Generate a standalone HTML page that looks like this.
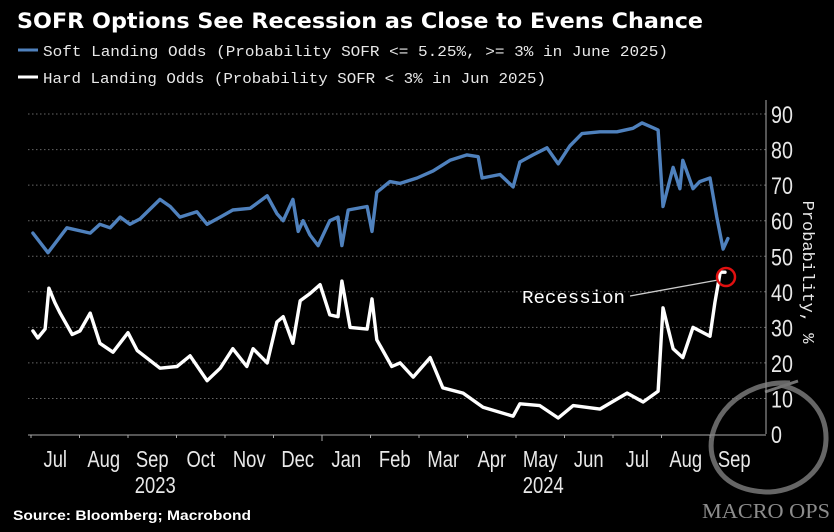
<!DOCTYPE html>
<html><head><meta charset="utf-8"><style>
html,body{margin:0;padding:0;background:#000;}
body{width:834px;height:527px;overflow:hidden;position:relative;font-family:"Liberation Sans",sans-serif;}
</style></head><body>
<svg id="chart" width="834" height="527" viewBox="0 0 834 527" xmlns="http://www.w3.org/2000/svg">
<rect x="0" y="0" width="834" height="527" fill="#000"/>
<text x="17" y="28" fill="#fff" font-family="'DejaVu Sans',sans-serif" font-weight="bold" font-size="21" textLength="686" lengthAdjust="spacingAndGlyphs">SOFR Options See Recession as Close to Evens Chance</text>
<g font-family="'Liberation Mono',monospace" font-size="15" fill="#e8e8e8">
<line x1="18" y1="50" x2="38" y2="50" stroke="#4f81bd" stroke-width="3"/>
<text x="43" y="56" textLength="625" lengthAdjust="spacingAndGlyphs">Soft Landing Odds (Probability SOFR &lt;= 5.25%, &gt;= 3% in June 2025)</text>
<line x1="18" y1="77" x2="38" y2="77" stroke="#fff" stroke-width="3"/>
<text x="43" y="83" textLength="503" lengthAdjust="spacingAndGlyphs">Hard Landing Odds (Probability SOFR &lt; 3% in Jun 2025)</text>
</g>
<g id="grid"></g>
<g id="yaxis"></g>
<g id="xaxis"></g>
<g id="series"></g>
<text transform="translate(803,272) rotate(90)" text-anchor="middle" fill="#e8e8e8" font-family="'Liberation Mono',monospace" font-size="17">Probability, %</text>
<g>
<line x1="630" y1="296" x2="718" y2="280" stroke="#ccc" stroke-width="1.3"/>
<text x="522" y="303" fill="#fff" font-family="'Liberation Mono',monospace" font-size="18" textLength="103" lengthAdjust="spacingAndGlyphs">Recession</text>
<circle cx="726" cy="277" r="9" fill="none" stroke="#e01010" stroke-width="2.5"/>
</g>
<text x="13" y="520" fill="#fff" font-family="'Liberation Sans',sans-serif" font-weight="bold" font-size="14" textLength="238" lengthAdjust="spacingAndGlyphs">Source: Bloomberg; Macrobond</text>
<g opacity="0.75">
<path d="M790 383 C 740 380, 705 420, 712 455 C 718 480, 740 492, 770 492 C 800 490, 825 470, 826 440 C 827 410, 805 390, 780 385" fill="none" stroke="#888" stroke-width="5"/>
<path d="M765 392 L 798 381" stroke="#999" stroke-width="3"/>
<text x="766" y="518" text-anchor="middle" fill="#bbb" font-family="'Liberation Serif',serif" font-size="21" textLength="128" lengthAdjust="spacingAndGlyphs">MACRO OPS</text>
</g>
</svg>
<script>
// Data (x in months since 1 Jul 2023)
const softMonths=[0.04,0.35,0.74,1.22,1.42,1.63,1.84,2.04,2.25,2.66,2.87,3.07,3.42,3.63,3.90,4.16,4.52,4.87,5.07,5.20,5.40,5.51,5.61,5.75,5.92,6.16,6.33,6.41,6.54,6.93,7.03,7.13,7.40,7.61,7.96,8.29,8.64,8.99,9.22,9.30,9.67,9.94,10.08,10.35,10.64,10.87,11.11,11.36,11.73,12.08,12.41,12.60,12.93,13.03,13.24,13.38,13.44,13.65,13.79,14.0,14.14,14.27,14.37];
const softValues=[56.5,51,58,56.5,59,58,61,59,60.5,66,64,61,62.5,59,61,63,63.5,67,62,60,66,57,60,56,53,60,61,53,63,64,57,68,71,70.5,72,74,77,78.5,78,72,73,69.5,76.5,78.5,80.5,76,81,84.5,85,85,86,87.5,85.5,64,75,69,77,69,71,72,61,52,55];
const hardMonths=[0.04,0.14,0.29,0.37,0.49,0.60,0.85,1.01,1.22,1.42,1.69,2.0,2.19,2.66,3.01,3.28,3.63,3.90,4.16,4.45,4.58,4.87,5.07,5.20,5.40,5.55,5.75,5.96,6.16,6.33,6.41,6.58,6.93,7.03,7.13,7.44,7.61,7.88,8.23,8.49,8.91,9.32,9.94,10.08,10.49,10.87,11.18,11.73,12.29,12.62,12.93,13.03,13.24,13.44,13.65,14.0,14.10,14.21,14.31];
const hardValues=[29,27,29.5,41,37,34,28,29,34,25.5,23,28.5,23.5,18.5,19,22,15,18.5,24,19,24,20,31.5,33,25.5,37.5,39.5,42,33.5,33,43,30,29.5,38,26.5,19,20,16,21.5,13,11.5,7.5,5,8.5,8,4.5,8,7,11.5,9,12,35.5,24,21.5,30,27.5,37,45.5,45.5];
const monthLabels=["Jul","Aug","Sep","Oct","Nov","Dec","Jan","Feb","Mar","Apr","May","Jun","Jul","Aug","Sep"];
const yTicks=[0,10,20,30,40,50,60,70,80,90];
const yearLabels=[{label:"2023",m:2.5},{label:"2024",m:10.5}];

const NS="http://www.w3.org/2000/svg";
const X0=31,MW=48.5,Y0=434,YS=3.555,XR=766;
const xs=m=>X0+m*MW, ys=v=>Y0-v*YS;
const NARROW="'Liberation Sans',sans-serif";
function mk(tag,attrs,parent){const e=document.createElementNS(NS,tag);for(const k in attrs)e.setAttribute(k,attrs[k]);parent.appendChild(e);return e;}
const grid=document.getElementById('grid'),ya=document.getElementById('yaxis'),xa=document.getElementById('xaxis'),ser=document.getElementById('series');
yTicks.forEach(v=>{
  if(v>0){const g=mk('line',{x1:28,x2:XR,y1:ys(v),y2:ys(v),stroke:'#666','stroke-width':1,'stroke-dasharray':'1.5,2.5'},grid);
  
  }
  const t=mk('text',{x:0,y:0,transform:`translate(771,${ys(v)+9}) scale(0.82,1)`,fill:'#e8e8e8','font-family':NARROW,'font-size':24},ya);
  t.textContent=String(v);
  
  
});
const ax=mk('line',{x1:XR,x2:XR,y1:100,y2:Y0,stroke:'#aaa','stroke-width':1},ya);


const bl=mk('line',{x1:28,x2:XR,y1:Y0+1,y2:Y0+1,stroke:'#aaa','stroke-width':1},xa);


monthLabels.forEach((l,i)=>{
  const tk=mk('line',{x1:xs(i),x2:xs(i),y1:Y0+1,y2:Y0+(i===6?7:4),stroke:'#aaa','stroke-width':1},xa);
  
  
  const t=mk('text',{x:0,y:0,transform:`translate(${xs(i+0.5)},467) scale(0.8,1)`,'text-anchor':'middle',fill:'#e8e8e8','font-family':NARROW,'font-size':23},xa);
  t.textContent=l;
  
  
});
yearLabels.forEach(y=>{
  const t=mk('text',{x:0,y:0,transform:`translate(${xs(y.m)+3},493) scale(0.8,1)`,'text-anchor':'middle',fill:'#e8e8e8','font-family':NARROW,'font-size':23},xa);
  t.textContent=y.label;
  
  
});
function line(ms,vs,color,name){
  const d=ms.map((m,i)=>(i?'L':'M')+xs(m).toFixed(1)+' '+ys(vs[i]).toFixed(1)).join(' ');
  const p=mk('path',{d:d,fill:'none',stroke:color,'stroke-width':3.4,'stroke-linejoin':'round','stroke-linecap':'round'},ser);
  
  
}
line(softMonths,softValues,'#4f81bd','soft-landing-line');
line(hardMonths,hardValues,'#ffffff','hard-landing-line');
</script>
</body></html>
